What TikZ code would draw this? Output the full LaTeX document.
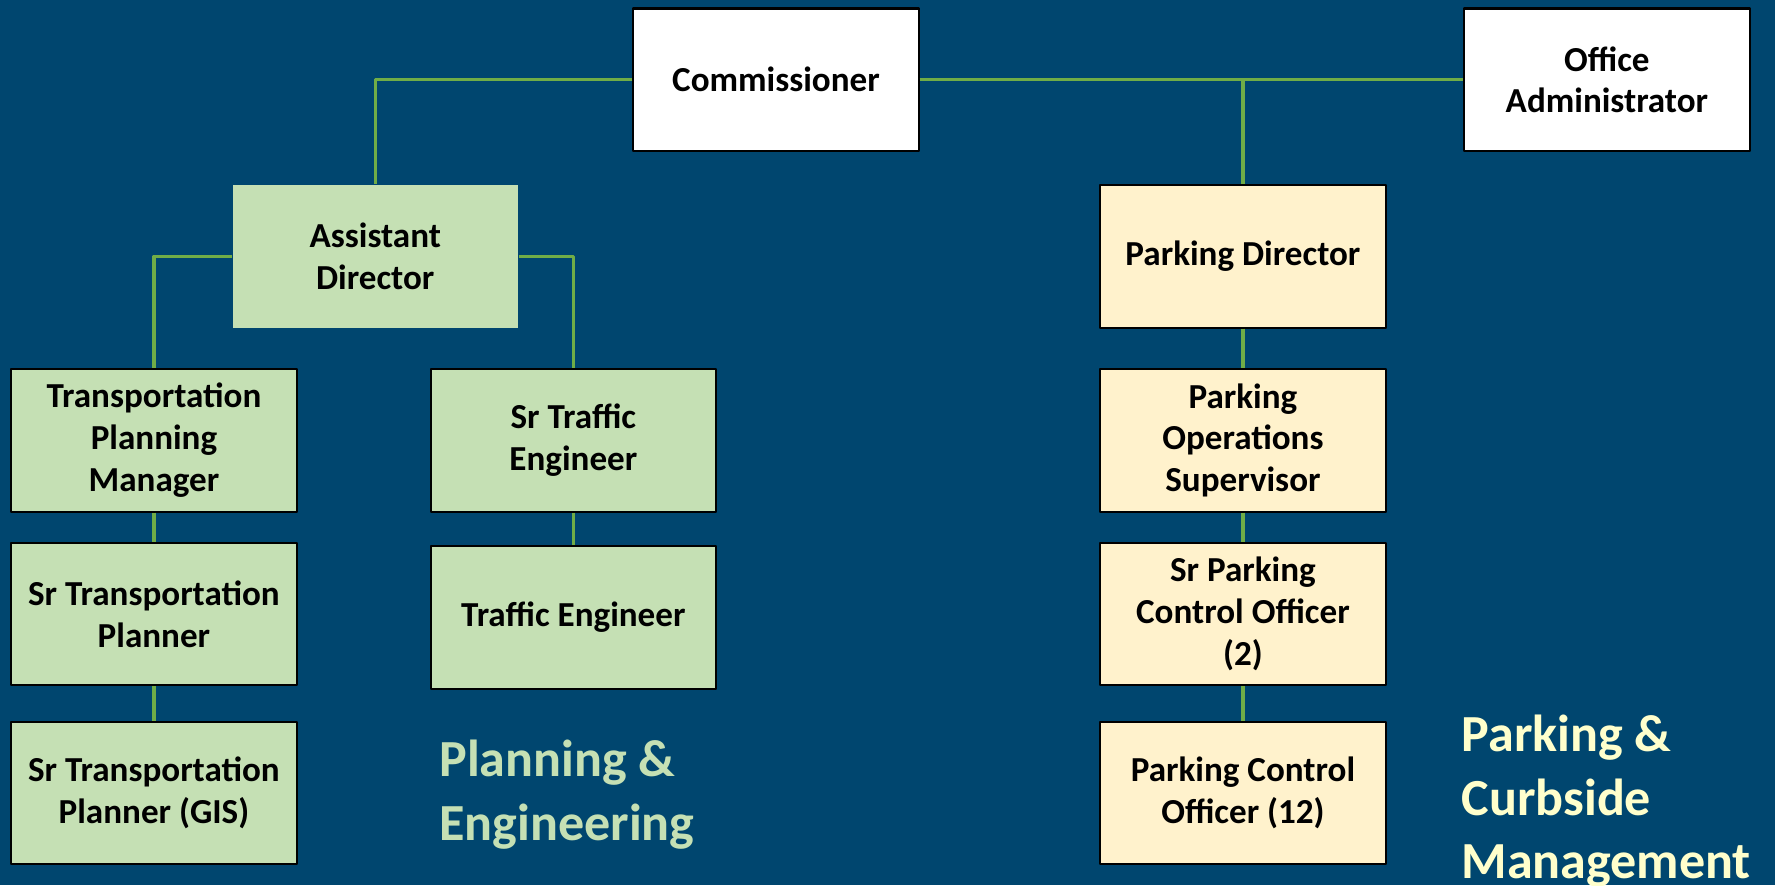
\documentclass[tikz,border=0pt]{standalone}
\usepackage{fontspec}
\setmainfont{Carlito}
\definecolor{bgblue}{HTML}{00466F}
\definecolor{boxgreen}{HTML}{C5E0B4}
\definecolor{boxyellow}{HTML}{FFF2CC}
\definecolor{linegreen}{HTML}{70AD47}
\definecolor{labelyellow}{HTML}{FFFFCC}
\begin{document}
\begin{tikzpicture}[x=1pt,y=-1pt,line join=round,
 box/.style={draw=black,line width=1.8pt,minimum width=252pt,minimum height=126pt,align=center,inner sep=2pt,font=\fontsize{31}{37}\selectfont\bfseries},
 pe/.style={box,fill=boxgreen},
 pk/.style={box,fill=boxyellow},
 head/.style={box,fill=white},
 link/.style={linegreen,line width=2.8pt},
 dept/.style={anchor=west,align=left,inner sep=0pt,font=\fontsize{46}{56}\selectfont\bfseries}]
 \def \W{1568}\def \H{782}
 \useasboundingbox (0,0) rectangle (\W,\H);
 \fill[bgblue] (0,0) rectangle (\W,\H);
 \clip (0,0) rectangle (\W,\H);
 \node[head] (comm) at (685.5,70.5) {Commissioner};
 \node[head] (offadm) at (1419.5,70.5) {Office\\Administrator};
 \node[pe,draw=none] (asstdir) at (331.5,226.5) {Assistant\\Director};
 \node[pe] (tpm) at (136,389) {Transportation\\Planning\\Manager};
 \node[pe] (stp) at (136,542.5) {Sr Transportation\\Planner};
 \node[pe] (stpgis) at (136,700.5) {Sr Transportation\\Planner (GIS)};
 \node[pe] (stte) at (506.5,389) {Sr Traffic\\Engineer};
 \node[pe] (te) at (506.5,545.5) {Traffic Engineer};
 \node[pk] (pdir) at (1098,226.5) {Parking Director};
 \node[pk] (pos) at (1098,389) {Parking\\Operations\\Supervisor};
 \node[pk] (spco) at (1098,542.5) {Sr Parking\\Control Officer\\(2)};
 \node[pk] (pco) at (1098,700.5) {Parking Control\\Officer (12)};
 \node[dept,text=boxgreen] (plan) at (388,702) {Planning \&\\Engineering};
 \node[dept,text=labelyellow] (park) at (1291,708) {Parking \&\\Curbside\\Management};
 \draw[link] (comm.west) -| (asstdir.north) (comm.east) -- (offadm.west)
 (comm.east -| pdir.north) -- (pdir.north);
 \draw[link] (asstdir.west) -| (tpm.north) (asstdir.east) -| (stte.north);
 \draw[link] (tpm) -- (stp) (stp) -- (stpgis) (stte) -- (te)
 (pdir) -- (pos) (pos) -- (spco) (spco) -- (pco);
\end{tikzpicture}
\end{document}
